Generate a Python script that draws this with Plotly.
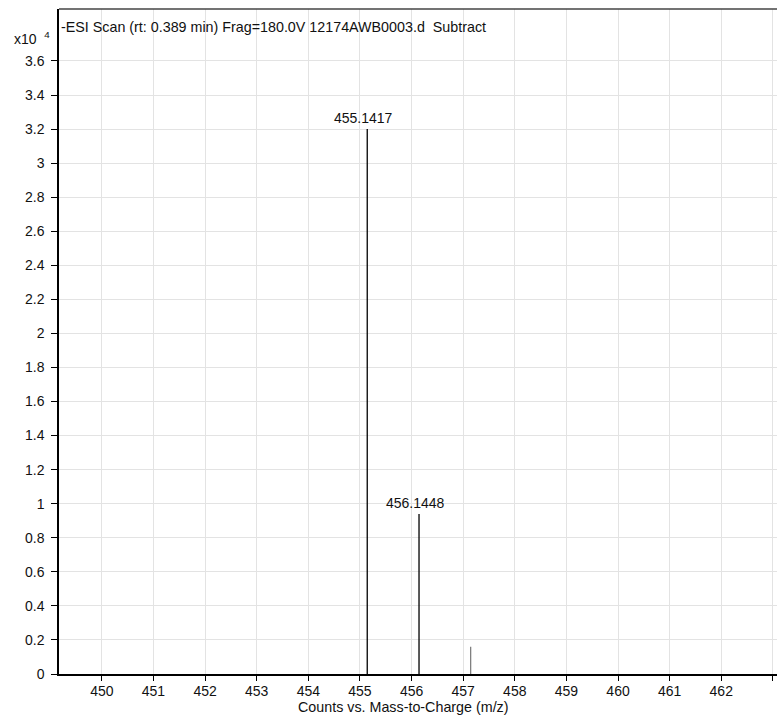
import plotly.graph_objects as go

# Data
peak_mz = [455.1417, 456.1448, 457.1450]
peak_counts = [3.20, 0.94, 0.16]   # x10^4
peak_colors = ["#000000", "#000000", "#808080"]
peak_labels = ["455.1417", "456.1448", ""]
x_ticks = list(range(450, 463))
x_tick_labels = [str(v) for v in x_ticks]
x_edge_tick = [463]
y_ticks = [round(0.2 * i, 1) for i in range(19)]
y_tick_labels = [f"{v:g}" for v in y_ticks]

fig = go.Figure()
for mz, c, col in zip(peak_mz, peak_counts, peak_colors):
    fig.add_trace(go.Scatter(x=[mz, mz], y=[0, c], mode="lines",
                             line=dict(color=col, width=1.3),
                             showlegend=False, hoverinfo="skip"))

for mz, c, lab in zip(peak_mz, peak_counts, peak_labels):
    if lab:
        fig.add_annotation(x=mz, y=c, text=lab, showarrow=False,
                           xanchor="center", yanchor="bottom", xshift=-4, yshift=1,
                           font=dict(size=14, color="#111111"))

fig.add_annotation(xref="paper", yref="paper", x=0.0, y=0.973, xanchor="left", yanchor="middle",
                   text="-ESI Scan (rt: 0.389 min) Frag=180.0V 12174AWB0003.d  Subtract",
                   showarrow=False, font=dict(size=14.3, color="#111111"))
fig.add_annotation(xref="paper", yref="paper", x=-0.066, y=0.957, xanchor="left", yanchor="middle",
                   text="x10  <sup>4</sup>", showarrow=False, font=dict(size=14, color="#111111"))
fig.add_annotation(xref="paper", yref="paper", x=0.4805, y=-0.05, xanchor="center", yanchor="middle",
                   text="Counts vs. Mass-to-Charge (m/z)", showarrow=False,
                   font=dict(size=14.3, color="#111111"))

fig.add_shape(type="line", xref="paper", yref="paper", x0=0, x1=1, y0=1, y1=1,
              line=dict(color="#444444", width=1.5))

fig.update_xaxes(range=[449.17, 463.08], tickvals=x_ticks, ticktext=x_tick_labels,
                 showgrid=True, gridcolor="#e3e3e3", gridwidth=1,
                 showline=True, linecolor="#000000", linewidth=2,
                 ticks="outside", ticklen=5, tickcolor="#000000",
                 ticklabelstandoff=-2,
                 minor=dict(tickvals=x_edge_tick, ticks="outside", ticklen=5,
                            tickcolor="#000000", showgrid=True, gridcolor="#e3e3e3"),
                 zeroline=False,
                 tickfont=dict(size=14, color="#111111"))
fig.update_yaxes(range=[0, 3.905], tickvals=y_ticks, ticktext=y_tick_labels,
                 showgrid=True, gridcolor="#e3e3e3", gridwidth=1,
                 showline=True, linecolor="#000000", linewidth=1.5,
                 ticks="outside", ticklen=6, tickcolor="#000000",
                 ticklabelstandoff=4,
                 zeroline=False,
                 tickfont=dict(size=14, color="#111111"))

fig.update_layout(width=777, height=715, margin=dict(l=59, r=0, t=9, b=41),
                  paper_bgcolor="white", plot_bgcolor="white",
                  font=dict(family="Liberation Sans, Arial, sans-serif"))

fig.write_html("out.html")
